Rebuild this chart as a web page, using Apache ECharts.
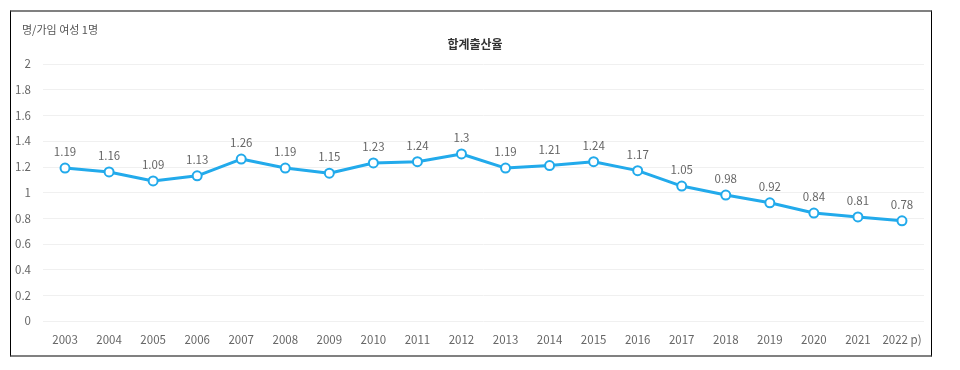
<!DOCTYPE html>
<html>
<head>
<meta charset="utf-8">
<script src="https://cdn.jsdelivr.net/npm/echarts@6/dist/echarts.min.js"></script>
<style>
html,body{margin:0;padding:0;background:#fff;}
#wrap{position:relative;width:960px;height:370px;}
#chart{position:absolute;left:0;top:0;width:960px;height:370px;}
#frame{position:absolute;left:10px;top:10px;width:920px;height:343px;border-left:1px solid #000;border-right:1px solid #000;border-top:2px solid #808080;border-bottom:2px solid #808080;pointer-events:none;}
</style>
</head>
<body>
<div id="wrap"><div id="chart"></div><div id="frame"></div></div>
<script>
const categories = ['2003','2004','2005','2006','2007','2008','2009','2010','2011','2012','2013','2014','2015','2016','2017','2018','2019','2020','2021','2022 p)'];
const values = [1.19,1.16,1.09,1.13,1.26,1.19,1.15,1.23,1.24,1.3,1.19,1.21,1.24,1.17,1.05,0.98,0.92,0.84,0.81,0.78];
const yTicks = [0,0.2,0.4,0.6,0.8,1,1.2,1.4,1.6,1.8,2];
const seriesName = '합계출산율';
const unitLabel = '명/가임 여성 1명';

const font = '"Noto Sans CJK KR", "Noto Sans", sans-serif';
const chart = echarts.init(document.getElementById('chart'));
chart.setOption({
  animation:false,
  textStyle:{fontFamily:font},
  title:[
    {text:seriesName,left:470,top:33,textAlign:'center',textStyle:{fontSize:12,fontWeight:'bold',color:'#333',fontFamily:font}},
    {text:unitLabel,left:17,top:19,textStyle:{fontSize:11,fontWeight:'normal',color:'#555',fontFamily:font}}
  ],
  grid:{left:43,right:36,top:64,bottom:49},
  xAxis:{
    type:'category',
    data:categories,
    boundaryGap:true,
    axisLine:{show:false},
    axisTick:{show:false},
    axisLabel:{color:'#666',fontSize:11.5,margin:13,interval:0,fontFamily:font}
  },
  yAxis:{
    type:'value',
    min:0,max:2,interval:0.2,
    axisLine:{show:false},
    axisTick:{show:false},
    splitLine:{lineStyle:{color:'#f0f0f0',width:1}},
    axisLabel:{color:'#666',fontSize:11.5,margin:12,fontFamily:font,
      formatter:function(v){const t=yTicks.find(x=>Math.abs(x-v)<1e-9);return String(t!==undefined?t:+v.toFixed(1));}}
  },
  series:[{
    name:seriesName,
    type:'line',
    data:values,
    symbol:'circle',
    symbolSize:9,
    lineStyle:{color:'#22aaeb',width:3},
    itemStyle:{color:'#fff',borderColor:'#22aaeb',borderWidth:2},
    label:{show:true,position:'top',distance:5,color:'#666',fontSize:11.5,fontFamily:font},
    z:3
  }]
});
</script>
</body>
</html>
